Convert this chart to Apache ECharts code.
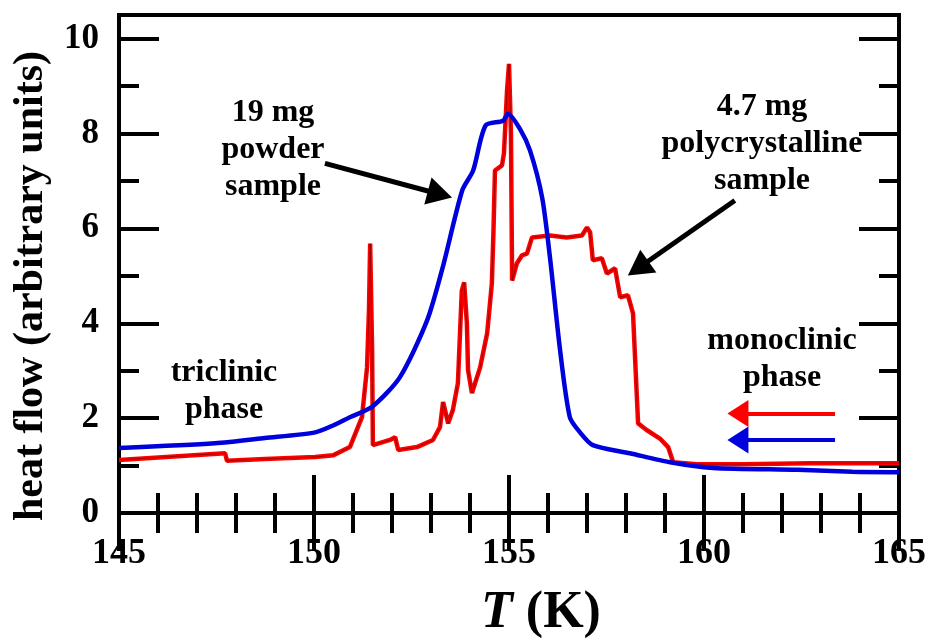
<!DOCTYPE html>
<html>
<head>
<meta charset="utf-8">
<script src="https://cdn.jsdelivr.net/npm/echarts@6/dist/echarts.min.js"></script>
<style>html,body{margin:0;padding:0;background:#fff;}#c{width:933px;height:639px;}</style>
</head>
<body>
<div id="c"></div>
<script>
// ---- data ----
var tRed = [145.0,147.72,147.77,148.74,150.03,150.5,150.92,151.23,151.36,151.41,151.44,151.49,151.51,151.95,152.08,152.16,152.64,153.05,153.23,153.31,153.44,153.56,153.69,153.79,153.85,153.92,153.95,154.05,154.26,154.44,154.56,154.60,154.64,154.82,154.87,154.95,155.00,155.05,155.08,155.20,155.33,155.46,155.59,156.05,156.48,156.87,157.00,157.08,157.15,157.38,157.51,157.72,157.85,158.05,158.18,158.31,158.53,158.87,159.08,159.21,159.82,161.0,162.72,165.0];
var vRed = [1.12,1.26,1.10,1.14,1.18,1.22,1.39,2.02,3.07,4.3,5.68,3.43,1.43,1.54,1.60,1.33,1.39,1.54,1.81,2.34,1.89,2.17,2.74,4.69,4.86,4.00,3.01,2.53,3.07,3.79,4.84,5.89,7.22,7.33,7.58,8.91,9.47,8.00,4.90,5.26,5.43,5.47,5.81,5.85,5.81,5.85,6.02,5.92,5.33,5.37,5.05,5.16,4.55,4.59,4.21,1.89,1.75,1.57,1.39,1.07,1.03,1.03,1.05,1.05];
var tBlue = [145.0,147.46,148.74,150.03,150.5,150.92,151.49,152.2,152.9,153.3,153.8,154.08,154.4,154.85,154.97,155.28,155.54,155.85,156.05,156.31,156.56,156.82,157.15,158.1,159.13,160.23,162.4,163.8,165.0];
var vBlue = [1.37,1.47,1.58,1.70,1.85,2.02,2.24,2.86,4.06,5.18,6.80,7.22,8.17,8.27,8.42,8.10,7.64,6.65,5.39,3.43,2.02,1.70,1.43,1.26,1.07,0.95,0.91,0.87,0.86];
var xTickMajor = [145,150,155,160,165];
var yTickMajor = [0,2,4,6,8,10];
var yTickMinor = [1,3,5,7,9];
var arrowPowder = [[150.28,7.37],[153.23,6.72]];
var arrowPoly = [[160.79,6.59],[158.31,5.16]];
var arrowRed = [[163.36,2.10],[160.87,2.10]];
var arrowBlue = [[163.36,1.54],[160.87,1.54]];

function pairs(t, v){ return t.map(function(x,i){ return [x, v[i]]; }); }

var FF = '"Liberation Serif","Times New Roman",serif';
var chart = echarts.init(document.getElementById('c'));

function yAx(pos, values, len, labels){
  return {
    type:'value', position:pos, min:0, max:10.5,
    axisLine:{show:false},
    splitLine:{show:false},
    axisTick:{show:true, inside:true, length:len, customValues:values, lineStyle:{color:'#000', width:4}},
    axisLabel: labels ? {show:true, customValues:values, margin:20, color:'#000', fontFamily:FF, fontWeight:'bold', fontSize:35} : {show:false}
  };
}
function xAx(pos, labels){
  return {
    type:'value', position:pos, min:145, max:165, interval:5,
    axisLine:{show:false},
    splitLine:{show:false},
    axisTick:{show:true, inside:true, length:38, lineStyle:{color:'#000', width:4}},
    minorTick:{show:true, splitNumber:5, length:20, lineStyle:{color:'#000', width:4}},
    axisLabel: labels ? {show:true, margin:23, color:'#000', fontFamily:FF, fontWeight:'bold', fontSize:36,
      customValues:xTickMajor} : {show:false}
  };
}
function arrowItem(a, color, width, size){
  return [
    {coord:a[0], symbol:'none', lineStyle:{color:color, width:width, type:'solid'}, itemStyle:{color:color}},
    {coord:a[1], symbol:'triangle', symbolSize:size, itemStyle:{color:color}}
  ];
}

var txt = function(x, y, text){
  return {type:'text', x:x, y:y, z:100, style:{text:text, fill:'#000', fontFamily:FF, fontWeight:'bold', fontSize:32, lineHeight:37, align:'center', verticalAlign:'middle'}};
};

chart.setOption({
  animation:false,
  backgroundColor:'#fff',
  grid:{left:119, right:34, top:15, bottom:126, show:true, borderColor:'#000', borderWidth:4, backgroundColor:'transparent'},
  xAxis:[xAx('bottom', true), xAx('top', false)],
  yAxis:[yAx('left', yTickMajor, 40, true), yAx('left', yTickMinor, 20, false), yAx('right', yTickMajor, 40, false), yAx('right', yTickMinor, 20, false)],
  series:[
    {type:'line', data:pairs(tRed, vRed), showSymbol:false, symbol:'none', lineStyle:{color:'#ff0000', width:4.5}, z:2, silent:true},
    {type:'line', data:pairs(tRed, vRed), showSymbol:false, symbol:'none', lineStyle:{color:'#000', width:0.8, opacity:0.45}, z:3, silent:true},
    {type:'line', data:pairs(tBlue, vBlue), showSymbol:false, symbol:'none', smooth:0.25, lineStyle:{color:'#0000dd', width:4.5}, z:4, silent:true,
      markLine:{silent:true, animation:false, label:{show:false}, emphasis:{disabled:true},
        data:[
          arrowItem(arrowPowder, '#000', 5, [28,25]),
          arrowItem(arrowPoly, '#000', 5, [28,25]),
          arrowItem(arrowRed, '#ff0000', 4, [27,21]),
          arrowItem(arrowBlue, '#0000dd', 4, [27,21])
        ]}
    }
  ],
  graphic:[
    txt(273, 150, '19 mg\npowder\nsample'),
    txt(762, 144, '4.7 mg\npolycrystalline\nsample'),
    txt(224, 391, 'triclinic\nphase'),
    txt(782, 359, 'monoclinic\nphase'),
    {type:'text', x:31, y:286, rotation:Math.PI/2, z:100,
      style:{text:'heat flow (arbitrary units)', fill:'#000', fontFamily:FF, fontWeight:'bold', fontSize:42, align:'center', verticalAlign:'middle'}},
    {type:'text', x:541, y:614, z:100,
      style:{text:'{i|T}{n| (K)}', fill:'#000', align:'center', verticalAlign:'middle',
        fontFamily:FF, fontWeight:'bold', fontSize:52,
        rich:{i:{fontStyle:'italic', fontWeight:'bold', fontFamily:FF, fontSize:52, fill:'#000'},
              n:{fontWeight:'bold', fontFamily:FF, fontSize:52, fill:'#000'}}}}
  ]
});
</script>
</body>
</html>
